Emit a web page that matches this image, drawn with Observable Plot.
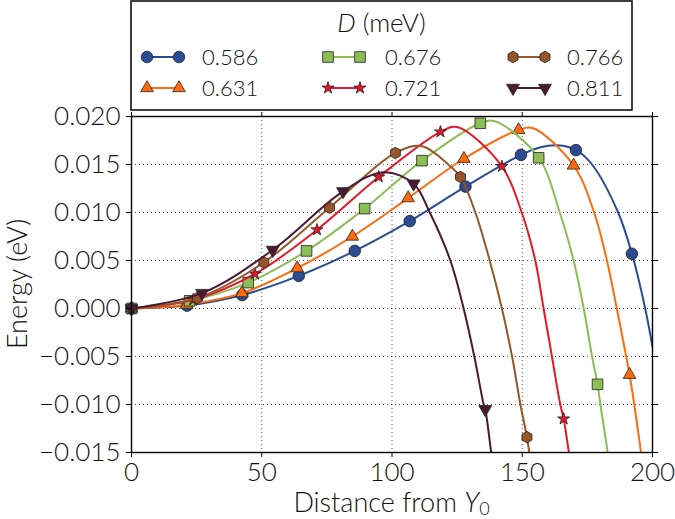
<!DOCTYPE html>
<html>
<head>
<meta charset="utf-8">
<script src="https://cdn.jsdelivr.net/npm/d3@7"></script>
<script src="https://cdn.jsdelivr.net/npm/@observablehq/plot@0.6"></script>
<style>
  body { margin: 0; background: #fff; }
  #wrap { position: relative; width: 675px; height: 519px; font-family: Lato, "Open Sans", sans-serif; font-weight: 300; color: #111; }
  #wrap svg { position: absolute; left: 0; overflow: visible; }
</style>
</head>
<body>
<div id="wrap"></div>
<script>
// ---- data ----
const seriesLabels = ["0.586", "0.631", "0.676", "0.721", "0.766", "0.811"];
const xTicks = [0, 50, 100, 150, 200];
const yTicks = [-0.015, -0.010, -0.005, 0.000, 0.005, 0.010, 0.015, 0.020];

// marker positions (x = distance, y = energy in eV)
const m586x = [0, 21.3, 42.5, 64.2, 85.7, 106.8, 128.2, 149.5, 170.6, 192.1];
const m586y = [0, 0.0003, 0.0014, 0.0034, 0.0060, 0.0091, 0.0127, 0.0160, 0.0165, 0.0057];
const m631x = [0, 21.2, 42.4, 63.6, 84.8, 106.2, 127.6, 148.6, 169.7, 191.2];
const m631y = [0, 0.0004, 0.0016, 0.0042, 0.0075, 0.0115, 0.0156, 0.0186, 0.0149, -0.0069];
const m676x = [0, 22.3, 44.8, 67.2, 89.5, 111.5, 133.9, 156.3, 178.9];
const m676y = [0, 0.0008, 0.0027, 0.0060, 0.0104, 0.0154, 0.0193, 0.0157, -0.0079];
const m721x = [0, 23.7, 47.4, 71.2, 94.9, 118.6, 142.2, 165.9];
const m721y = [0, 0.0009, 0.0036, 0.0082, 0.0137, 0.0184, 0.0148, -0.0115];
const m766x = [0, 25.3, 50.8, 76.0, 101.3, 126.3, 151.8];
const m766y = [0, 0.0011, 0.0048, 0.0105, 0.0162, 0.0137, -0.0134];
const m811x = [0, 27.1, 54.2, 81.2, 108.3, 135.8];
const m811y = [0, 0.0016, 0.0061, 0.0122, 0.0130, -0.0105];

// extra points (between / beyond the markers)
const c586x = [157, 163.5, 176.8, 186.8, 197.2, 200];
const c586y = [0.0168, 0.0170, 0.0150, 0.0100, 0.0000, -0.0040];
const c631x = [154, 177.6, 182.5, 186.3, 189.9, 193.0, 195.6, 197.6];
const c631y = [0.0188, 0.0100, 0.0050, 0.0000, -0.0050, -0.0100, -0.0150, -0.0190];
const c676x = [139.5, 164.4, 169.7, 173.6, 176.8, 180.0, 182.8, 184.8];
const c676y = [0.0195, 0.0100, 0.0050, 0.0000, -0.0050, -0.0100, -0.0150, -0.0190];
const c721x = [125, 149.8, 155.0, 158.2, 161.4, 164.6, 167.9, 170.0];
const c721y = [0.0189, 0.0100, 0.0050, 0.0000, -0.0050, -0.0100, -0.0150, -0.0190];
const c766x = [111.5, 122.4, 132.0, 137.5, 142.2, 146.1, 149.3, 152.7, 154.8];
const c766y = [0.0169, 0.0148, 0.0100, 0.0050, 0.0000, -0.0050, -0.0100, -0.0150, -0.0190];
const c811x = [96.8, 114.5, 122.4, 127.5, 131.6, 135.2, 138.1, 140.2];
const c811y = [0.0142, 0.0100, 0.0050, 0.0000, -0.0050, -0.0100, -0.0150, -0.0190];

// ---- styling ----
const colors = ["#2b4c94", "#ff6a0d", "#8dbd55", "#e5172b", "#96562a", "#4a1a32"];
const hexagon = {
  draw(context, size) {
    const rx = Math.sqrt(size / Math.PI), ry = rx * 2 / Math.sqrt(3), hy = ry / 2;
    context.moveTo(0, ry); context.lineTo(rx, hy); context.lineTo(rx, -hy);
    context.lineTo(0, -ry); context.lineTo(-rx, -hy); context.lineTo(-rx, hy);
    context.closePath();
  }
};
const symbols = [d3.symbolCircle, d3.symbolTriangle, d3.symbolSquare, d3.symbolStar, hexagon, d3.symbolTriangle];
const radii = [5.8, 4.7, 6.0, 3.8, 5.0, 4.8];
const rotations = [0, 0, 0, 0, 0, 180];

const markXs = [m586x, m631x, m676x, m721x, m766x, m811x];
const markYs = [m586y, m631y, m676y, m721y, m766y, m811y];
const curveXs = [c586x, c631x, c676x, c721x, c766x, c811x];
const curveYs = [c586y, c631y, c676y, c721y, c766y, c811y];

const series = seriesLabels.map((label, k) => {
  const markers = markXs[k].map((x, i) => ({x, y: markYs[k][i], label}));
  const extra = curveXs[k].map((x, i) => ({x, y: curveYs[k][i], label}));
  const curve = markers.concat(extra).sort((a, b) => a.x - b.x);
  return {label, markers, curve, k};
});

const marks = [
  Plot.gridX(xTicks, {stroke: "#444", strokeOpacity: 0.9, strokeDasharray: "1,3", strokeWidth: 1}),
  Plot.gridY(yTicks, {stroke: "#444", strokeOpacity: 0.9, strokeDasharray: "1,3", strokeWidth: 1}),
];
for (const s of series) {
  marks.push(Plot.line(s.curve, {x: "x", y: "y", stroke: colors[s.k], strokeWidth: 2, curve: "catmull-rom", clip: true}));
  marks.push(Plot.dot(s.markers, {x: "x", y: "y", symbol: symbols[s.k], r: radii[s.k], rotate: rotations[s.k],
    fill: colors[s.k], stroke: "#222", strokeWidth: 0.8}));
}
marks.push(
  Plot.frame({stroke: "#000", strokeWidth: 1.4}),
  Plot.axisX(xTicks, {tickSize: 5, tickPadding: 5, tickFormat: d3.format("d"), label: null, stroke: "#000"}),
  Plot.axisX(xTicks, {anchor: "top", tickSize: 5, tickFormat: () => "", label: null, stroke: "#000"}),
  Plot.axisY(yTicks, {tickSize: 5, tickPadding: 6, tickFormat: d3.format(".3f"), label: null, stroke: "#000"}),
  Plot.axisY(yTicks, {anchor: "right", tickSize: 5, tickFormat: () => "", label: null, stroke: "#000"})
);

const legendH = 111;
const chart = Plot.plot({
  width: 675,
  height: 519 - legendH,
  marginTop: 5,
  marginBottom: 67,
  marginLeft: 131,
  marginRight: 23,
  style: {fontFamily: "Lato, 'Open Sans', sans-serif", fontSize: "26px", fontWeight: 300, color: "#111", background: "transparent", overflow: "visible"},
  x: {domain: [0, 200]},
  y: {domain: [-0.015, 0.020]},
  marks
});
chart.style.top = legendH + "px";
document.getElementById("wrap").appendChild(chart);

const svg = d3.select(chart);
// y label
const yr = chart.scale("y").range;
svg.append("text")
  .attr("transform", `translate(27,${(yr[0] + yr[1]) / 2}) rotate(-90)`)
  .attr("text-anchor", "middle").attr("fill", "#111")
  .style("font-size", "27px").text("Energy (eV)");
// x label with italic Y and subscript 0
const xr = chart.scale("x").range;
const xl = svg.append("text")
  .attr("x", (xr[0] + xr[1]) / 2).attr("y", 401)
  .attr("text-anchor", "middle").attr("fill", "#111")
  .style("font-size", "27px");
xl.append("tspan").text("Distance from ");
xl.append("tspan").attr("font-style", "italic").text("Y");
xl.append("tspan").attr("dy", 3).style("font-size", "18px").text("0");

// ---- legend ----
const leg = d3.select("#wrap").append("svg")
  .attr("width", 675).attr("height", legendH).style("top", "0px");
leg.append("rect").attr("x", 131).attr("y", 1).attr("width", 501).attr("height", 109)
  .attr("fill", "#fff").attr("stroke", "#000").attr("stroke-width", 1.5);
const title = leg.append("text").attr("x", 381.5).attr("y", 32).attr("text-anchor", "middle")
  .attr("fill", "#111").style("font-size", "26px");
title.append("tspan").attr("font-style", "italic").text("D");
title.append("tspan").text(" (meV)");
const colX = [147, 328, 513], textX = [202, 385, 567], rowY = [57, 88];
seriesLabels.forEach((label, k) => {
  const c = Math.floor(k / 2), r = k % 2;
  const x0 = colX[c], x1 = colX[c] + 32, y = rowY[r];
  leg.append("line").attr("x1", x0).attr("x2", x1).attr("y1", y).attr("y2", y)
    .attr("stroke", colors[k]).attr("stroke-width", 2);
  for (const x of [x0, x1]) {
    leg.append("path")
      .attr("d", d3.symbol(symbols[k], Math.PI * radii[k] * radii[k])())
      .attr("transform", `translate(${x},${y}) rotate(${rotations[k]})`)
      .attr("fill", colors[k]).attr("stroke", "#222").attr("stroke-width", 0.8);
  }
  leg.append("text").attr("x", textX[c]).attr("y", y + 8).attr("fill", "#111")
    .style("font-size", "22px").text(label);
});
</script>
</body>
</html>
